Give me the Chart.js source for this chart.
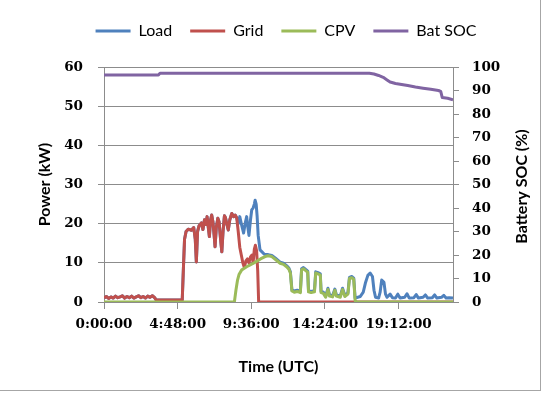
<!DOCTYPE html>
<html><head><meta charset="utf-8">
<script src="https://cdn.jsdelivr.net/npm/chart.js@4.4.1/dist/chart.umd.min.js"></script>
<style>
html,body{margin:0;padding:0;background:#fff;}
#wrap{position:relative;width:546px;height:395px;}
#frame{position:absolute;left:0;top:0;width:540px;height:390px;border-right:1px solid #a6a6a6;border-bottom:1px solid #a6a6a6;pointer-events:none;}
</style></head><body>
<div id="wrap"><canvas id="c" width="546" height="395"></canvas><div id="frame"></div></div>
<script>
// ---- data (time in hours UTC) ----
const seriesNames = ['Load', 'Grid', 'CPV', 'Bat SOC'];
const xTickValues = [0, 4.8, 9.6, 14.4, 19.2];
const xTickLabels = ['0:00:00', '4:48:00', '9:36:00', '14:24:00', '19:12:00'];
const xAxisTitle = 'Time (UTC)';
const leftAxisTitle = 'Power (kW)';
const rightAxisTitle = 'Battery SOC (%)';

const gridT  = [0,0.15,0.3,0.45,0.6,0.75,0.9,1.05,1.2,1.35,1.5,1.65,1.8,1.95,2.1,2.25,2.4,2.55,2.7,2.85,3.0,3.15,3.3,3.4,4.0,5.1,5.18,5.25,5.35,5.5,5.7,5.85,5.95,6.02,6.1,6.2,6.35,6.45,6.55,6.65,6.72,6.8,6.87,6.95,7.02,7.1,7.18,7.24,7.32,7.42,7.5,7.6,7.68,7.76,7.85,7.92,8.0,8.1,8.2,8.33,8.45,8.55,8.65,8.75,8.85,8.95,9.05,9.15,9.25,9.35,9.45,9.55,9.65,9.72,9.8,9.87,9.95,10.02,10.08,22.75];
const gridKW = [1.0,1.4,0.9,1.3,1.0,1.5,1.1,1.3,1.6,1.0,1.4,1.1,1.5,1.0,1.3,1.6,1.1,1.4,1.0,1.5,1.2,1.6,1.1,0.5,0.5,0.5,9,16,18,18.6,18.3,19,16,10.2,18,19.5,20.2,18.5,21,19.8,21.8,19,16.7,21,22.2,20.5,17,14.1,19,21.4,20.5,16,12.8,18,22,21.5,20,18.4,21,22.6,21.8,22.2,21.5,18,14,12,10,8.8,10.5,11,10,11.5,12,10,13.5,14.5,13,8,0,0];

const loadT  = [0,0.15,0.3,0.45,0.6,0.75,0.9,1.05,1.2,1.35,1.5,1.65,1.8,1.95,2.1,2.25,2.4,2.55,2.7,2.85,3.0,3.15,3.3,3.4,4.0,5.1,5.18,5.25,5.35,5.5,5.7,5.85,5.95,6.02,6.1,6.2,6.35,6.45,6.55,6.65,6.72,6.8,6.87,6.95,7.02,7.1,7.18,7.24,7.32,7.42,7.5,7.6,7.68,7.76,7.85,7.92,8.0,8.1,8.2,8.33,8.45,8.55,8.65,8.75,8.85,8.95,9.1,9.2,9.3,9.38,9.45,9.55,9.63,9.72,9.8,9.85,9.92,9.98,10.05,10.17,10.3,10.45,10.7,10.94,11.2,11.48,11.7,11.9,12.05,12.15,12.25,12.4,12.6,12.8,12.88,13.0,13.15,13.28,13.33,13.5,13.72,13.8,13.95,14.1,14.15,14.3,14.45,14.6,14.7,14.9,15.05,15.15,15.4,15.55,15.7,15.9,16.0,16.15,16.28,16.37,16.7,16.9,17.05,17.2,17.35,17.5,17.6,17.7,17.9,18.0,18.1,18.25,18.35,18.45,18.65,18.8,19.0,19.15,19.3,19.6,19.75,19.9,20.2,20.35,20.5,20.8,20.95,21.1,21.4,21.55,21.7,22.0,22.15,22.3,22.5,22.75];
const loadKW = [1.0,1.4,0.9,1.3,1.0,1.5,1.1,1.3,1.6,1.0,1.4,1.1,1.5,1.0,1.3,1.6,1.1,1.4,1.0,1.5,1.2,1.6,1.1,0.5,0.5,0.5,9,16,18,18.6,18.3,19,16,10.2,18,19.5,20.2,18.5,21,19.8,21.8,19,16.7,21,22.2,20.5,17,14.1,19,21.4,20.5,16,12.8,18,22,21.5,20,18.4,21,22.6,21.8,22.2,21.5,20,21.8,20,17.6,20,21.8,19,17,21,23.5,24,25,26,25,22,17,13.3,12.8,12.2,12.1,11.9,11.1,10.2,9.9,9.3,8.7,7.7,3.1,2.8,3.0,2.7,8.5,8.8,8.3,7.9,2.9,2.7,2.9,7.7,7.5,7.2,2.7,2.5,1.5,3.5,1.8,1.6,3.3,1.8,1.5,3.5,1.7,2.3,6.3,6.5,6.1,1.0,1.4,2.5,5,6.8,7.4,6.5,3,1.2,1.0,2.5,5.6,5,2,1.2,2.0,1.1,1.0,2.0,1.0,1.2,2.1,1.0,1.1,1.9,1.0,1.2,1.8,1.0,1.1,1.8,1.0,1.2,1.7,1.0,1.1,1.0];

const cpvT  = [0,8.5,8.6,8.7,8.8,8.98,9.15,9.3,9.5,9.74,10.0,10.2,10.5,10.7,10.94,11.2,11.48,11.7,11.9,12.05,12.15,12.25,12.4,12.6,12.8,12.88,13.0,13.15,13.28,13.33,13.5,13.72,13.8,13.95,14.1,14.15,14.3,14.45,14.6,14.7,14.9,15.05,15.15,15.4,15.55,15.7,15.9,16.0,16.15,16.28,16.37,16.5,22.75];
const cpvKW = [0,0,3,5.5,7,8.2,8.6,9.0,9.4,9.9,10.5,11,11.6,11.8,11.6,10.8,9.9,9.6,9.0,8.4,7.4,2.8,2.5,2.7,2.4,8.2,8.5,8.0,7.6,2.6,2.4,2.6,7.4,7.2,6.9,2.4,2.2,1.2,3.2,1.5,1.3,3.0,1.5,1.2,3.2,1.4,2.0,6.0,6.2,5.8,0.3,0,0];

const socT   = [0,3.55,3.65,17.3,17.6,17.9,18.2,18.45,18.65,19.0,19.3,19.8,20.3,20.8,21.3,21.8,21.95,22.05,22.4,22.75];
const socPct = [96.6,96.6,97.3,97.3,97.0,96.4,95.6,94.5,93.6,93.0,92.7,92.1,91.5,91.0,90.5,90.0,89.6,87.0,86.7,86.0];

const colors = ['#4F81BD', '#C0504D', '#9BBB59', '#8064A2'];
const pts = (t, v) => t.map((x, i) => ({x: x, y: v[i]}));

const GRIDC = '#8c8c8c';
const tickFont = {family: '"DejaVu Serif"', size: 13.5, weight: 'bold'};
const titleFont = {family: 'Lato', size: 16, weight: 'bold'};

const rightTitle = {
  id: 'rightTitle',
  afterDraw(chart) {
    const ctx = chart.ctx, a = chart.chartArea;
    ctx.save();
    ctx.translate(522, (a.top + a.bottom) / 2 + 2);
    ctx.rotate(-Math.PI / 2);
    ctx.font = 'bold 16px Lato';
    ctx.fillStyle = '#000';
    ctx.textAlign = 'center';
    ctx.textBaseline = 'middle';
    ctx.fillText(rightAxisTitle, 0, 0);
    ctx.restore();
  }
};

const mk = (i, data, order, axis) => ({
  label: seriesNames[i], data: data, borderColor: colors[i], backgroundColor: colors[i],
  borderWidth: 3, pointRadius: 0, tension: 0, order: order, yAxisID: axis,
  borderJoinStyle: 'round', borderCapStyle: 'butt'
});

new Chart(document.getElementById('c'), {
  type: 'line',
  data: {
    datasets: [
      mk(0, pts(loadT, loadKW), 4, 'y'),
      mk(1, pts(gridT, gridKW), 3, 'y'),
      mk(2, pts(cpvT, cpvKW), 2, 'y'),
      mk(3, pts(socT, socPct), 1, 'y1')
    ]
  },
  options: {
    responsive: false, animation: false, devicePixelRatio: 1,
    layout: {padding: {left: 26, right: 0, top: 5, bottom: 0}},
    plugins: {
      tooltip: {enabled: false},
      legend: {
        position: 'top', align: 'center',
        labels: {
          font: {family: 'Lato', size: 16}, color: '#000',
          usePointStyle: true, pointStyle: 'line', pointStyleWidth: 35,
          boxWidth: 35, padding: 18,
          sort: (a, b) => a.datasetIndex - b.datasetIndex
        }
      },
      title: {display: true, text: '', weight: 500, font: {size: 10, lineHeight: 1}, padding: {top: 0, bottom: 8}}
    },
    scales: {
      x: {
        type: 'linear', min: 0, max: 22.75,
        afterBuildTicks: s => { s.ticks = xTickValues.map(v => ({value: v})); },
        afterFit: s => { s.height = 93; },
        ticks: {font: tickFont, color: '#000', padding: 7, maxRotation: 0, autoSkip: false,
                callback: (v, i) => xTickLabels[i]},
        grid: {drawOnChartArea: false, drawTicks: true, tickLength: 7, color: GRIDC},
        border: {display: true, color: GRIDC},
        title: {display: true, text: xAxisTitle, font: titleFont, color: '#000', padding: {top: 19, bottom: 19}}
      },
      y: {
        position: 'left', min: 0, max: 60,
        afterFit: s => { s.width = 78; },
        ticks: {stepSize: 10, font: tickFont, color: '#000', padding: 15},
        grid: {color: GRIDC, tickLength: 6},
        border: {color: GRIDC},
        title: {display: true, text: leftAxisTitle, font: titleFont, color: '#000', padding: {top: 9, bottom: 9}}
      },
      y1: {
        position: 'right', min: 0, max: 100,
        afterFit: s => { s.width = 93; },
        ticks: {stepSize: 10, font: tickFont, color: '#000', padding: 13},
        grid: {drawOnChartArea: false, color: GRIDC, tickLength: 6},
        border: {color: GRIDC}
      }
    }
  },
  plugins: [rightTitle]
});
</script>
</body></html>
